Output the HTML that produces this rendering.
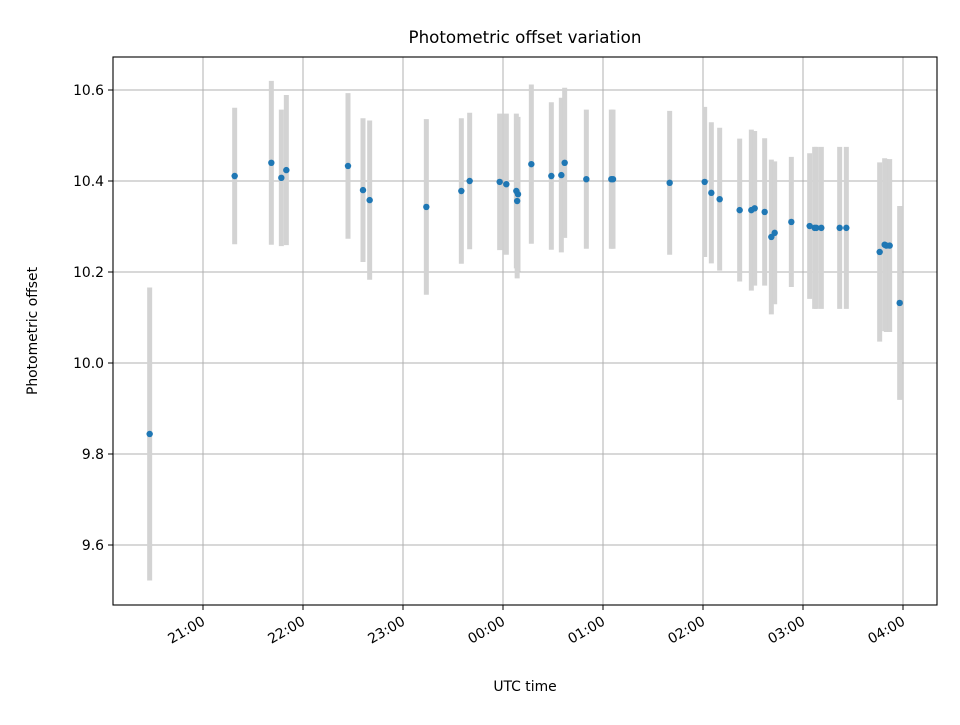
<!DOCTYPE html>
<html><head><meta charset="utf-8"><style>
body{margin:0;background:#fff;}
svg text{font-family:"DejaVu Sans","Liberation Sans",sans-serif;fill:#000;}
</style></head><body>
<svg id="chart" width="960" height="720" xmlns="http://www.w3.org/2000/svg">
<rect width="960" height="720" fill="#fff"/>
<g id="grid"></g>
<g id="bars"></g>
<g id="pts"></g>
<rect x="113" y="57" width="824" height="548" fill="none" stroke="#000" stroke-width="1.1"/>
<g id="axes"></g>
<text x="525" y="43" font-size="16.7" text-anchor="middle">Photometric offset variation</text>
<text x="525" y="691" font-size="13.9" text-anchor="middle">UTC time</text>
<text x="37" y="331" font-size="13.9" text-anchor="middle" transform="rotate(-90 37 331)">Photometric offset</text>
</svg>
<script>
// minutes after 20:00 UTC
const times=[28,79,101,107,110,147,156,160,194,215,220,238,242,248,249,248.5,257,269,275,277,290,305,306,340,361,365,370,382,389,391,397,401,403,413,424,427,428,431,442,446,466,469,470,472,478];
const values=[9.844,10.411,10.44,10.407,10.424,10.433,10.38,10.358,10.343,10.378,10.4,10.398,10.393,10.378,10.371,10.356,10.437,10.411,10.413,10.44,10.404,10.404,10.404,10.396,10.398,10.374,10.36,10.336,10.336,10.34,10.332,10.277,10.286,10.31,10.301,10.297,10.297,10.297,10.297,10.297,10.244,10.26,10.258,10.258,10.132];
const errors=[0.322,0.15,0.18,0.15,0.165,0.16,0.158,0.175,0.193,0.16,0.15,0.15,0.155,0.17,0.17,0.17,0.175,0.162,0.17,0.165,0.153,0.153,0.153,0.158,0.165,0.155,0.157,0.157,0.177,0.17,0.162,0.17,0.157,0.143,0.16,0.178,0.178,0.178,0.178,0.178,0.197,0.19,0.19,0.19,0.213];
const yTicks=[9.6,9.8,10.0,10.2,10.4,10.6];
const xTickMinutes=[60,120,180,240,300,360,420,480];
const xTickLabels=["21:00","22:00","23:00","00:00","01:00","02:00","03:00","04:00"];
const NS="http://www.w3.org/2000/svg";
const X=m=>103+m*100/60;
const Y=v=>545-(v-9.6)*455;
function mk(tag,attrs,parent){const e=document.createElementNS(NS,tag);for(const k in attrs)e.setAttribute(k,attrs[k]);document.getElementById(parent).appendChild(e);return e;}
yTicks.forEach((t,i)=>{
  const l=mk('line',{x1:113,x2:937,y1:Y(t),y2:Y(t),stroke:'#b0b0b0','stroke-width':1},'grid');
  
  
  mk('line',{x1:108,x2:113,y1:Y(t),y2:Y(t),stroke:'#000'},'axes');
  const tx=mk('text',{x:104,y:Y(t)+5,'font-size':13.9,'text-anchor':'end'},'axes');
  tx.textContent=t.toFixed(1);
  
  
});
xTickMinutes.forEach((m,i)=>{
  const x=X(m);
  const l=mk('line',{x1:x,x2:x,y1:57,y2:605,stroke:'#b0b0b0','stroke-width':1},'grid');
  
  
  mk('line',{x1:x,x2:x,y1:605,y2:610,stroke:'#000'},'axes');
  const tx=mk('text',{x:x+3,y:624,'font-size':13.9,'text-anchor':'end',transform:`rotate(-30 ${x+3} 624)`},'axes');
  tx.textContent=xTickLabels[i];
  
  
});
times.forEach((m,i)=>{
  const x=X(m),v=values[i],e=errors[i];
  const b=mk('line',{x1:x,x2:x,y1:Y(v+e),y2:Y(v-e),stroke:'#d3d3d3','stroke-width':5},'bars');
  
  
});
times.forEach((m,i)=>{
  const c=mk('circle',{cx:X(m),cy:Y(values[i]),r:3.2,fill:'#1f77b4'},'pts');
  
  
});
</script>
</body></html>
